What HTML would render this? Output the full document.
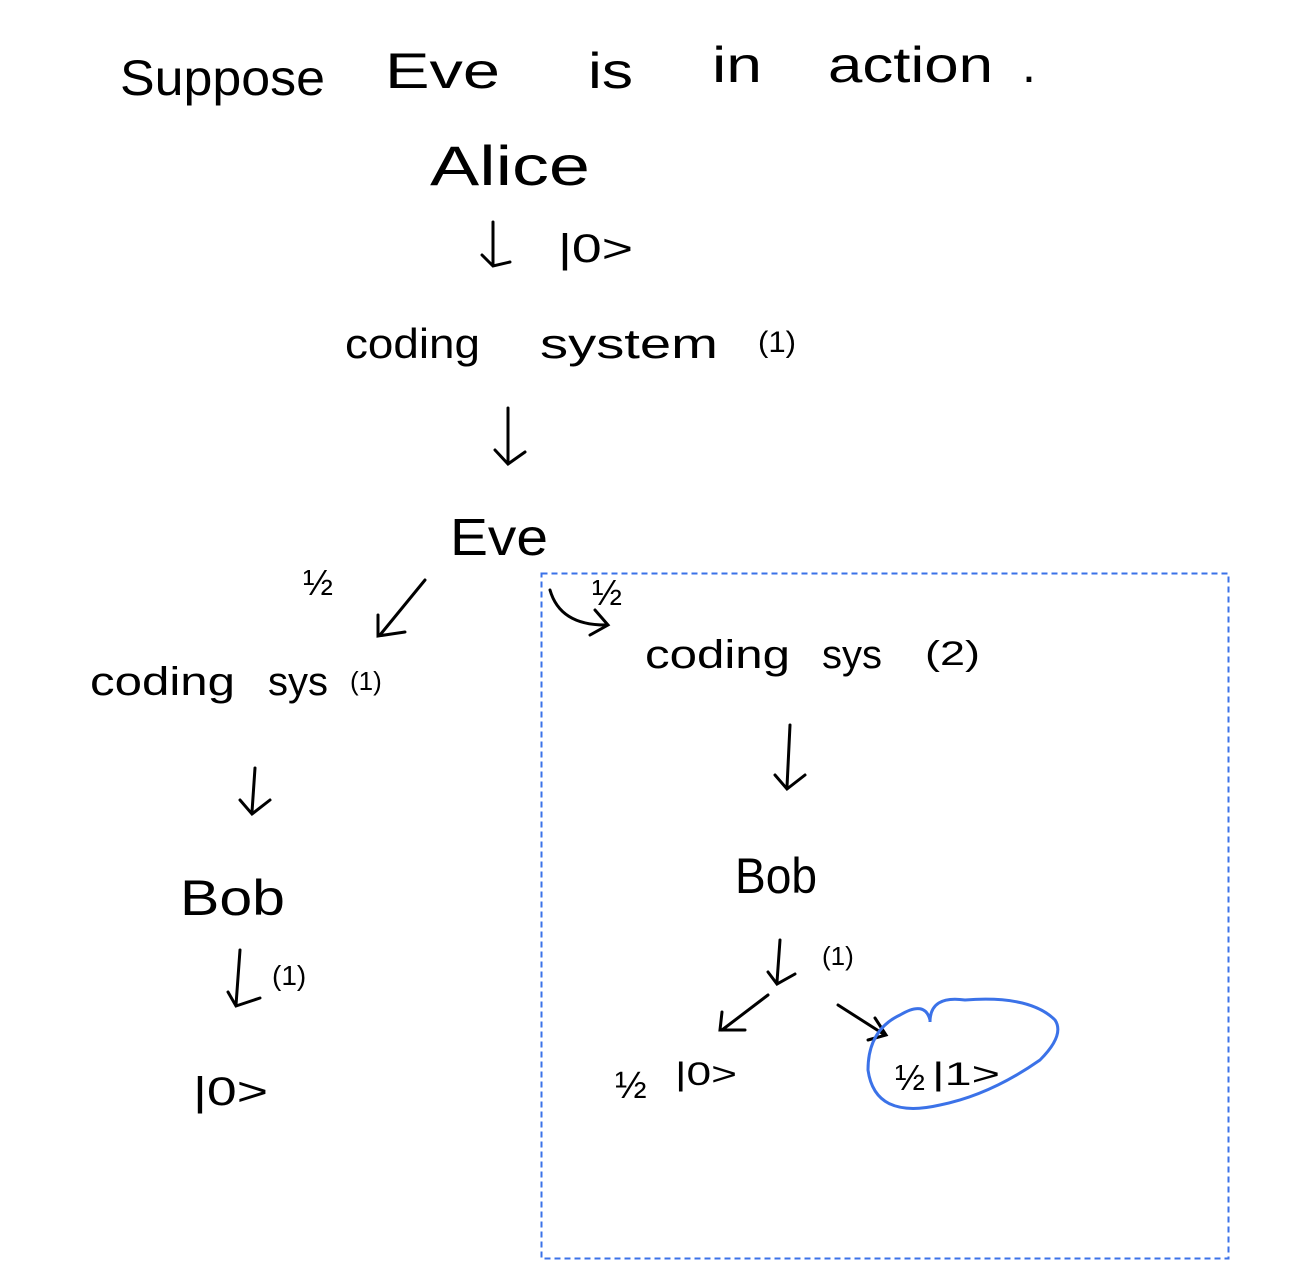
<!DOCTYPE html>
<html><head><meta charset="utf-8"><style>
html,body{margin:0;padding:0;background:#fff;}
svg{display:block;}
text{font-family:"Liberation Sans",sans-serif;fill:#000;}
</style></head><body>
<svg width="1293" height="1272" viewBox="0 0 1293 1272" xmlns="http://www.w3.org/2000/svg">
<g font-size="50">
<text x="120" y="95" textLength="205" lengthAdjust="spacingAndGlyphs">Suppose</text>
<text x="385" y="88" textLength="115" lengthAdjust="spacingAndGlyphs">Eve</text>
<text x="588" y="88" textLength="45" lengthAdjust="spacingAndGlyphs">is</text>
<text x="712" y="82" textLength="50" lengthAdjust="spacingAndGlyphs">in</text>
<text x="828" y="82" textLength="165" lengthAdjust="spacingAndGlyphs">action</text>
<text x="1022" y="82">.</text>
</g>
<text x="430" y="185" font-size="56" textLength="160" lengthAdjust="spacingAndGlyphs">Alice</text>
<text x="558" y="262" font-size="40" textLength="75" lengthAdjust="spacingAndGlyphs">|0&gt;</text>
<text x="345" y="358" font-size="42" textLength="135" lengthAdjust="spacingAndGlyphs">coding</text>
<text x="540" y="358" font-size="42" textLength="178" lengthAdjust="spacingAndGlyphs">system</text>
<text x="758" y="352" font-size="30" textLength="38" lengthAdjust="spacingAndGlyphs">(1)</text>
<text x="450" y="555" font-size="52" textLength="98" lengthAdjust="spacingAndGlyphs">Eve</text>
<text x="303" y="595" font-size="36">½</text>
<text x="592" y="605" font-size="36">½</text>
<text x="90" y="695" font-size="40" textLength="145" lengthAdjust="spacingAndGlyphs">coding</text>
<text x="268" y="695" font-size="40" textLength="60" lengthAdjust="spacingAndGlyphs">sys</text>
<text x="350" y="690" font-size="26">(1)</text>
<text x="645" y="668" font-size="40" textLength="145" lengthAdjust="spacingAndGlyphs">coding</text>
<text x="822" y="668" font-size="40" textLength="60" lengthAdjust="spacingAndGlyphs">sys</text>
<text x="925" y="665" font-size="34" textLength="55" lengthAdjust="spacingAndGlyphs">(2)</text>
<text x="180" y="915" font-size="50" textLength="105" lengthAdjust="spacingAndGlyphs">Bob</text>
<text x="272" y="985" font-size="28">(1)</text>
<text x="193" y="1105" font-size="40" textLength="75" lengthAdjust="spacingAndGlyphs">|0&gt;</text>
<text x="735" y="893" font-size="50" textLength="82" lengthAdjust="spacingAndGlyphs">Bob</text>
<text x="822" y="965" font-size="26">(1)</text>
<text x="615" y="1098" font-size="38">½</text>
<text x="675" y="1085" font-size="32" textLength="62" lengthAdjust="spacingAndGlyphs">|0&gt;</text>
<text x="895" y="1090" font-size="36">½</text>
<text x="932" y="1085" font-size="32" textLength="68" lengthAdjust="spacingAndGlyphs">|1&gt;</text>
<g stroke="#000" stroke-width="3" fill="none" stroke-linecap="round">
<path d="M493 222 L493 265 M482 255 L493 266 L510 262"/>
<path d="M508 408 L508 462 M495 450 L508 464 L525 452"/>
<path d="M425 580 L380 635 M378 615 L378 636 L405 632"/>
<path d="M550 590 Q560 625 605 625 M595 610 L608 625 L590 635"/>
<path d="M255 768 L252 812 M240 800 L252 814 L270 800"/>
<path d="M240 950 L236 1005 M228 992 L236 1006 L260 998"/>
<path d="M790 725 L787 787 M775 775 L787 789 L805 775"/>
<path d="M780 940 L777 982 M768 972 L777 984 L795 974"/>
<path d="M768 995 L722 1030 M722 1012 L720 1030 L745 1030"/>
<path d="M838 1005 L885 1035 M875 1018 L886 1035 L868 1040"/>
</g>
<path d="M930 1022 Q930 995 965 1000 Q1030 995 1055 1020 Q1065 1035 1040 1060 Q990 1095 940 1105 Q875 1120 868 1070 Q868 1030 900 1015 Q925 1000 930 1020" fill="none" stroke="#3b72e8" stroke-width="3"/>
<rect x="541.5" y="573.5" width="687" height="685" fill="none" stroke="#3b72e8" stroke-width="2" stroke-dasharray="6,4"/>
</svg>
</body></html>
